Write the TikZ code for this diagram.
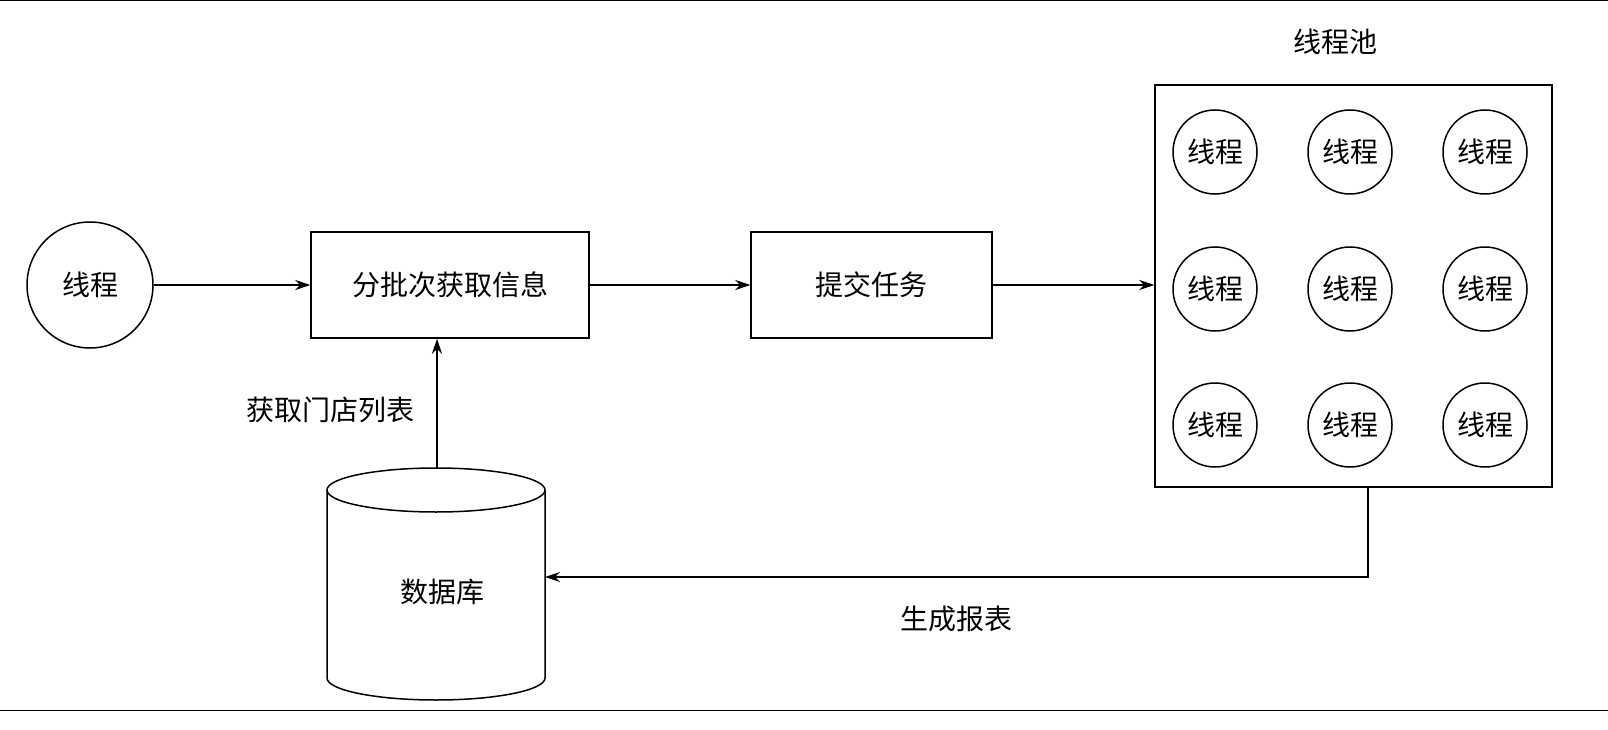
\documentclass[tikz,border=0pt]{standalone}
\usepackage{fontspec}
\newfontfamily\cjk{Noto Sans CJK SC}
\usetikzlibrary{arrows.meta}
\begin{document}
\begin{tikzpicture}[x=1pt,y=-1pt,line width=1.5pt,
  every node/.style={font=\cjk\fontsize{28}{30}\selectfont,inner sep=0pt},
  arr/.style={-{Stealth[length=15pt,width=10pt]}},
  box/.style={draw,minimum width=#1,minimum height=106pt},
  thr/.style={draw,circle,minimum size=84pt}]
\draw[line width=1pt] (0,1) -- (1608,1);
\draw[line width=1pt] (0,710) -- (1608,710);
\node[draw,circle,minimum size=126pt] (t) at (90,285) {线程};
\node[box=278pt] (b1) at (450,285) {分批次获取信息};
\node[box=241pt] (b2) at (871.5,285) {提交任务};
\node[draw,minimum width=397pt,minimum height=402pt] (pool) at (1353.5,286) {};
\node (pl) at (1335,42) {线程池};
\foreach \x/\i in {1215/a,1350/b,1485/c}
  \foreach \y/\j in {152/1,289/2,425/3}
    \node[thr] (c\i\j) at (\x,\y) {线程};
% cylinder
\draw[fill=white] (327,490) -- (327,678) arc[start angle=180,end angle=0,x radius=109,y radius=22] -- (545,490);
\draw (436,490) ellipse[x radius=109,y radius=22];
\node (db) at (442,592) {数据库};
\coordinate (dbtop) at (437,468);
\coordinate (dbr) at (545,577);
\coordinate (corner) at (1368,577);
\draw[arr] (t) -- (b1);
\draw[arr] (b1) -- (b2);
\draw[arr] (b2.east) -- (pool.west|-b2.east);
\draw[arr] (dbtop) -- (dbtop|-b1.south) node[pos=0.45,left=22pt] {获取门店列表};
\draw[arr] (pool.south-|corner) -- (corner) -- (dbr) node[pos=0.5,below=28pt] {生成报表};
\pgfresetboundingbox
\useasboundingbox (0,0) rectangle (1608,730);
\end{tikzpicture}
\end{document}
